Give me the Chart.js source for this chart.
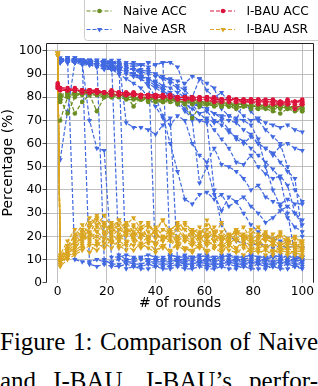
<!DOCTYPE html>
<html><head><meta charset="utf-8">
<script src="https://cdn.jsdelivr.net/npm/chart.js@4.4.1/dist/chart.umd.min.js"></script>
<style>
html,body{margin:0;padding:0;background:#fff;width:318px;height:386px;overflow:hidden}
#wrap{position:absolute;left:0;top:0;width:318px;height:312px}
#cap{position:absolute;left:0;top:322px;width:318px;font-family:"Liberation Serif","Times New Roman",serif;font-size:25px;line-height:39px;color:#000}
#cap div{text-align:justify;text-align-last:justify}
</style></head>
<body>
<div id="wrap"><canvas id="c"></canvas></div>
<div id="cap"><div>Figure 1: Comparison of Naive</div><div>and I-BAU. I-BAU’s perfor-</div></div>
<script>
// rounds at which each run was evaluated
const ROUNDS_IBAU  = [0,1,4,7,10,13,16,19,22,25,28,31,34,37,40,43,46,49,52,55,58,61,64,67,70,73,76,79,82,85,88,91,94,97,100];
const ROUNDS_NAIVE = [1,4,7,10,13,16,19,22,25,28,31,34,37,40,43,46,49,52,55,58,61,64,67,70,73,76,79,82,85,88,91,94,97,100];
const X_TICKS = [0,20,40,60,80,100];
const Y_TICKS = [0,10,20,30,40,50,60,70,80,90,100];
const SERIES_NAMES = ['Naive ACC','I-BAU ACC','Naive ASR','I-BAU ASR'];

const NAIVE_ASR = [
 [96,97,10,9,9,10,9,9,10,9,9,10,9,9,9,10,9,9,10,9,9,9,10,9,9,9,10,9,9,9,10,9,9,10],
 [53,74,95,96,8,7,8,7,7,8,7,7,8,7,7,7,8,7,7,8,7,7,7,8,7,7,7,8,7,7,7,8,7,7],
 [95,96,96,95,70,58,57,11,11,12,11,11,12,11,11,12,11,11,11,12,11,11,12,11,11,11,12,11,11,11,12,11,11,11],
 [97,96,97,96,96,96,10,8,8,9,8,8,9,8,8,8,9,8,8,9,8,8,8,9,8,8,9,8,8,8,9,8,8,9],
 [96,97,96,96,95,96,95,96,12,10,10,11,10,10,10,11,10,10,11,10,10,10,11,10,10,10,11,10,10,11,10,10,10,11],
 [96,96,97,96,96,95,96,95,96,69,67,67,66,64,68,71,9,8,8,9,8,8,8,9,8,8,8,9,8,8,8,9,8,8],
 [95,96,96,95,96,95,95,94,95,94,95,94,95,10,9,9,10,9,9,9,10,9,9,9,10,9,9,9,10,9,9,9,10,9],
 [96,96,95,96,95,95,94,95,94,94,93,94,93,94,95,95,93,84,70,43,50,38,31,37,35,30,25,22,20,19,18,17,16,15],
 [96,95,96,95,95,94,94,93,93,92,92,91,90,89,88,88,87,86,89,88,83,80,82,78,75,72,70,71,69,68,67,68,66,65],
 [95,96,95,94,94,93,92,92,91,90,89,88,86,84,82,80,78,75,72,70,71,69,70,66,62,60,63,60,58,55,59,60,58,57],
 [96,96,95,95,94,93,93,92,90,88,86,84,80,76,71,68,72,70,60,55,52,58,51,50,48,45,40,42,37,35,34,36,34,34],
 [96,95,96,95,95,94,93,93,92,91,90,88,85,80,72,60,48,36,34,38,39,36,38,33,35,37,33,30,26,28,31,33,30,27],
 [96,96,95,95,94,94,93,92,92,91,90,89,88,87,85,84,82,80,78,76,75,73,72,72,71,70,68,62,50,40,33,28,24,22],
 [95,96,95,96,95,94,94,93,93,92,92,90,88,86,83,80,77,74,71,70,69,40,25,20,18,17,16,17,16,15,16,15,16,15],
 [96,95,96,95,94,94,93,93,92,91,90,89,87,85,83,81,79,77,75,73,74,70,68,65,63,61,58,55,52,49,45,30,12,10],
 [96,97,96,96,95,96,95,95,94,95,94,94,95,94,95,12,11,12,11,11,12,11,11,12,11,11,12,11,11,12,11,11,12,11],
 [96,96,96,95,96,95,96,95,95,6,7,6,6,7,6,6,7,6,6,7,6,6,7,6,6,7,6,6,6,7,6,6,7,6],
 [96,96,95,95,95,94,94,93,93,93,92,92,91,90,89,87,85,83,80,88,86,84,75,72,70,78,74,70,66,63,60,50,40,35],
 [96,95,95,96,95,94,94,94,93,93,92,91,92,90,88,86,84,81,77,73,70,66,62,58,52,51,55,50,47,45,46,42,30,25],
 [95,96,96,95,95,94,93,93,92,91,90,89,88,86,84,82,80,79,77,76,75,73,71,70,69,66,64,60,58,56,52,48,45,20]
];
const IBAU_ASR = [
 [99,8,12,15,18,20,24,22,26,23,21,25,20,22,19,23,21,18,20,22,19,21,18,20,17,19,21,18,16,19,17,15,17,16,14],
 [98,10,14,18,22,28,25,29,24,27,22,20,24,26,21,19,23,25,20,18,22,20,24,19,21,18,20,17,19,22,18,16,18,17,15],
 [99,9,11,13,15,17,16,19,18,15,17,20,16,18,17,15,19,16,14,17,15,18,16,14,16,15,17,14,15,16,13,15,14,13,12],
 [98,11,16,20,25,21,27,24,20,23,26,22,19,24,22,27,20,23,19,21,24,20,18,22,19,23,20,18,21,19,17,20,18,16,17],
 [99,7,10,12,14,16,14,17,15,18,16,14,17,15,13,16,14,17,15,13,16,14,15,13,16,14,12,15,13,14,12,14,13,12,11],
 [99,12,18,23,20,26,22,19,24,21,25,28,23,20,22,18,21,24,26,22,19,27,21,18,20,23,19,21,24,20,18,22,19,17,18],
 [98,9,13,17,19,22,18,21,17,20,18,16,21,19,17,20,18,15,19,17,20,16,18,15,17,19,16,14,17,15,16,14,15,13,14],
 [99,10,15,21,17,24,28,21,25,19,23,21,26,18,24,20,22,19,25,21,17,23,20,26,19,22,18,20,17,21,19,16,18,20,16],
 [99,8,11,14,16,13,17,15,19,16,14,18,15,17,14,16,13,17,15,14,16,13,15,17,14,13,15,13,14,12,14,13,12,14,13],
 [98,11,14,19,23,19,22,26,22,25,20,24,21,19,23,27,22,20,18,23,21,19,22,20,18,21,24,19,17,20,18,21,17,19,18],
 [99,9,12,16,21,18,20,17,21,18,22,19,17,20,16,19,21,17,18,16,19,17,20,16,18,15,18,16,19,15,17,15,16,15,14],
 [99,10,13,15,19,24,29,25,22,27,24,20,23,25,21,18,22,26,23,19,21,25,22,18,20,22,19,23,20,18,21,17,19,16,15]
];
const NAIVE_ACC = [
 [70,80,81,82,82,81,82,81,81,80,80,80,79,79,79,79,78,78,78,78,77,78,77,77,77,77,76,76,77,76,76,76,75,75],
 [79,73,80,82,83,82,81,82,81,80,80,79,80,79,78,79,78,78,77,78,77,77,76,77,76,76,76,75,76,75,75,76,75,74],
 [80,82,73,78,81,74,80,82,81,81,76,80,80,79,79,80,79,78,79,78,78,78,77,78,77,77,76,77,76,76,77,76,76,75],
 [81,82,82,83,82,82,82,81,81,81,80,80,80,80,79,79,79,79,78,78,78,78,78,77,77,77,77,77,76,76,76,76,76,76],
 [78,81,81,82,81,81,80,80,80,79,79,79,78,78,78,78,77,77,71,76,77,76,76,76,75,76,75,75,75,74,73,75,74,74],
 [80,81,82,81,82,81,81,80,81,80,80,79,79,79,78,79,78,78,78,77,77,77,77,76,76,77,76,76,76,75,76,75,75,75]
];
const IBAU_ACC = [
 [85,84,83,83,83,83,82,82,82,82,82,81,81,81,81,81,80,80,80,80,80,80,79,79,79,79,79,79,79,78,78,78,78,78,78],
 [84,83,83,84,83,83,83,82,82,82,81,81,81,81,80,80,80,80,80,79,79,79,79,79,79,78,78,78,78,78,78,77,78,75,77],
 [86,84,84,83,83,83,83,82,83,82,82,82,81,81,81,81,81,80,80,80,80,80,80,79,80,79,79,79,79,79,79,78,79,78,79],
 [85,83,83,83,82,82,82,82,81,81,81,81,80,80,80,80,80,79,79,79,79,79,78,78,78,78,78,78,77,77,77,77,77,77,77],
 [84,84,83,83,83,82,83,82,82,82,81,82,81,81,81,80,81,80,80,80,79,80,79,79,79,79,78,79,78,78,78,78,77,78,78]
];

const COLORS = {nacc:'#6B8E23', iacc:'#DC143C', nasr:'#4169E1', iasr:'#DAA520'};
const FONT = 'DejaVu Sans';

function mk(rounds, vals, color, tri, name){
  return {
    label: name,
    data: rounds.map((r,i)=>({x:r, y:vals[i]})),
    borderColor: color, backgroundColor: color,
    borderWidth: 1.2, borderDash: [4,2],
    pointStyle: tri ? 'triangle' : 'circle',
    pointRotation: tri ? 180 : 0,
    pointRadius: tri ? 3 : 2.3,
    pointBackgroundColor: color, pointBorderWidth: 0,
    tension: 0, fill: false
  };
}
const datasets = [];
IBAU_ACC.forEach(v=>datasets.push(mk(ROUNDS_IBAU, v, COLORS.iacc, false, SERIES_NAMES[1])));
NAIVE_ACC.forEach(v=>datasets.push(mk(ROUNDS_NAIVE, v, COLORS.nacc, false, SERIES_NAMES[0])));
IBAU_ASR.forEach(v=>datasets.push(mk(ROUNDS_IBAU, v, COLORS.iasr, true, SERIES_NAMES[3])));
NAIVE_ASR.forEach(v=>datasets.push(mk(ROUNDS_NAIVE, v, COLORS.nasr, true, SERIES_NAMES[2])));

const LEGEND = [
  {name:SERIES_NAMES[0], color:COLORS.nacc, tri:false, x:86.5, y:11},
  {name:SERIES_NAMES[1], color:COLORS.iacc, tri:false, x:210, y:11},
  {name:SERIES_NAMES[2], color:COLORS.nasr, tri:true, x:86.5, y:29.5},
  {name:SERIES_NAMES[3], color:COLORS.iasr, tri:true, x:210, y:29.5}
];

const framePlugin = {
  id:'frame',
  afterDraw(chart){
    const {ctx, chartArea:a} = chart;
    ctx.save();
    ctx.strokeStyle = '#222'; ctx.lineWidth = 1; ctx.setLineDash([]);
    ctx.beginPath();
    ctx.moveTo(a.left+0.5, a.bottom); ctx.lineTo(a.left+0.5, a.top+0.5);
    ctx.lineTo(a.right-0.5, a.top+0.5); ctx.lineTo(a.right-0.5, a.bottom);
    ctx.stroke();
    // legend box
    ctx.fillStyle = 'rgba(255,255,255,0.85)';
    ctx.strokeStyle = '#cccccc';
    ctx.beginPath();
    ctx.roundRect(84.5, -6, 240, 46.5, 3);
    ctx.fill(); ctx.stroke();
    LEGEND.forEach(it=>{
      ctx.strokeStyle = it.color; ctx.lineWidth = 1.2; ctx.setLineDash([4,2]);
      ctx.beginPath(); ctx.moveTo(it.x, it.y); ctx.lineTo(it.x+25, it.y); ctx.stroke();
      ctx.setLineDash([]);
      ctx.fillStyle = it.color;
      const cx = it.x+13, cy = it.y;
      ctx.beginPath();
      if (it.tri){ ctx.moveTo(cx-2.6, cy-1.5); ctx.lineTo(cx+2.6, cy-1.5); ctx.lineTo(cx, cy+3); ctx.closePath(); }
      else { ctx.arc(cx, cy, 2.3, 0, Math.PI*2); }
      ctx.fill();
      ctx.fillStyle = '#000';
      ctx.font = '12.2px "DejaVu Sans"';
      ctx.textBaseline = 'middle'; ctx.textAlign = 'left';
      ctx.fillText(it.name, it.x+36.5, it.y+0.5);
    });
    ctx.restore();
  }
};

new Chart(document.getElementById('c'), {
  type:'line',
  data:{datasets},
  plugins:[framePlugin],
  options:{
    responsive:true, maintainAspectRatio:false, animation:false, events:[],
    layout:{padding:{top:43, right:4, left:0, bottom:0}},
    plugins:{legend:{display:false}, tooltip:{enabled:false}},
    scales:{
      x:{type:'linear', min:-4.8, max:104.8,
         afterBuildTicks(s){ s.ticks = X_TICKS.map(v=>({value:v})); },
         ticks:{autoSkip:false, maxRotation:0, padding:2, color:'#000', font:{family:FONT, size:12.2}},
         grid:{color:'#b0b0b0', lineWidth:0.8, drawTicks:false},
         border:{display:false},
         title:{display:true, text:'# of rounds', color:'#000', font:{family:FONT, size:14}, padding:{top:0,bottom:0}},
         afterFit(s){ s.height = 29.3; }
      },
      y:{min:0, max:103.4,
         afterBuildTicks(s){ s.ticks = Y_TICKS.map(v=>({value:v})); },
         ticks:{padding:0.5, color:'#000', font:{family:FONT, size:12.2}},
         grid:{color:(c)=> (c.tick && c.tick.value===0) ? 'rgba(0,0,0,0)' : '#b0b0b0', lineWidth:0.8, drawTicks:true, tickLength:3.5, tickColor:'#222'},
         border:{display:false},
         title:{display:true, text:'Percentage (%)', color:'#000', font:{family:FONT, size:14}, padding:{top:0,bottom:0}},
         afterFit(s){ s.width = 46; }
      }
    }
  }
});
</script>
</body></html>
